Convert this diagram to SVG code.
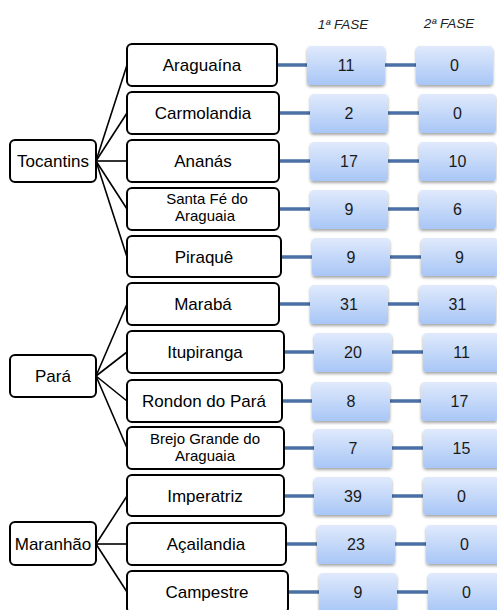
<svg xmlns="http://www.w3.org/2000/svg" width="497" height="610" viewBox="0 0 497 610">
<defs>
<linearGradient id="bg" x1="0" y1="0" x2="0" y2="1">
<stop offset="0" stop-color="#e0eafc"/>
<stop offset="1" stop-color="#a8c6f6"/>
</linearGradient>
<filter id="sh" x="-20%" y="-20%" width="140%" height="150%">
<feGaussianBlur in="SourceAlpha" stdDeviation="1.5"/>
<feOffset dx="0" dy="2" result="b"/>
<feComponentTransfer><feFuncA type="linear" slope="0.35"/></feComponentTransfer>
<feMerge><feMergeNode/><feMergeNode in="SourceGraphic"/></feMerge>
</filter>
</defs>
<style>
text{font-family:"Liberation Sans",Arial,sans-serif;fill:#000;text-anchor:middle}
.box rect{fill:#fff;stroke:#000;stroke-width:2}
.lbl{font-size:17px}
.two{font-size:15px}
.num rect{fill:url(#bg);filter:url(#sh)}
.num text{font-size:16px;fill:#1a1a1a}
.hdr{font-size:13.5px;font-style:italic;fill:#222}
.tree line{stroke:#000;stroke-width:1.6}
.link line{stroke:#4a70a5;stroke-width:3.5}
</style>
<rect width="497" height="610" fill="#fff"/>
<text class="hdr" x="343" y="28.5">1ª FASE</text>
<text class="hdr" x="449" y="27.5">2ª FASE</text>
<g id="connectors">
<g class="tree">
<line x1="96" y1="161" x2="127" y2="65"/>
<line x1="96" y1="161" x2="127" y2="113"/>
<line x1="96" y1="161" x2="127" y2="161"/>
<line x1="96" y1="161" x2="127" y2="209"/>
<line x1="96" y1="161" x2="127" y2="257"/>
<line x1="96" y1="376" x2="127" y2="304"/>
<line x1="96" y1="376" x2="127" y2="352"/>
<line x1="96" y1="376" x2="127" y2="401"/>
<line x1="96" y1="376" x2="127" y2="448"/>
<line x1="96" y1="544" x2="127" y2="496"/>
<line x1="96" y1="544" x2="127" y2="544"/>
<line x1="96" y1="544" x2="127" y2="592"/>
</g>
<g class="link">
<line x1="277" y1="65" x2="307" y2="65"/><line x1="385" y1="65" x2="416" y2="65"/>
<line x1="279" y1="113" x2="310" y2="113"/><line x1="388" y1="113" x2="419" y2="113"/>
<line x1="279" y1="161" x2="310" y2="161"/><line x1="388" y1="161" x2="419" y2="161"/>
<line x1="279" y1="209" x2="310" y2="209"/><line x1="388" y1="209" x2="419" y2="209"/>
<line x1="281" y1="257" x2="312" y2="257"/><line x1="390" y1="257" x2="421" y2="257"/>
<line x1="279" y1="304" x2="310" y2="304"/><line x1="388" y1="304" x2="419" y2="304"/>
<line x1="284" y1="352" x2="314" y2="352"/><line x1="392" y1="352" x2="423" y2="352"/>
<line x1="282" y1="401" x2="312" y2="401"/><line x1="390" y1="401" x2="421" y2="401"/>
<line x1="284" y1="448" x2="314" y2="448"/><line x1="392" y1="448" x2="423" y2="448"/>
<line x1="284" y1="496" x2="314" y2="496"/><line x1="392" y1="496" x2="423" y2="496"/>
<line x1="286" y1="544" x2="317" y2="544"/><line x1="395" y1="544" x2="426" y2="544"/>
<line x1="288" y1="592" x2="319" y2="592"/><line x1="397" y1="592" x2="428" y2="592"/>
</g>
</g>
<g id="tocantins" class="box"><rect x="10" y="140" width="86" height="42" rx="5"/><text class="lbl" x="53" y="167">Tocantins</text></g>
<g id="para" class="box"><rect x="10" y="355" width="86" height="42" rx="5"/><text class="lbl" x="53" y="382">Pará</text></g>
<g id="maranhao" class="box"><rect x="10" y="522" width="86" height="43" rx="5"/><text class="lbl" x="53" y="550">Maranhão</text></g>

<g id="araguaina" class="box"><rect x="127" y="44" width="150" height="42" rx="5"/><text class="lbl" x="202" y="71">Araguaína</text></g>
<g id="carmolandia" class="box"><rect x="127" y="92" width="152" height="42" rx="5"/><text class="lbl" x="203" y="119">Carmolandia</text></g>
<g id="ananas" class="box"><rect x="127" y="140" width="152" height="42" rx="5"/><text class="lbl" x="203" y="167">Ananás</text></g>
<g id="santafe" class="box"><rect x="127" y="188" width="152" height="42" rx="5"/><text class="two" x="207" y="204">Santa Fé do</text><text class="two" x="205" y="221">Araguaia</text></g>
<g id="piraque" class="box"><rect x="127" y="236" width="154" height="41" rx="5"/><text class="lbl" x="204" y="263">Piraquê</text></g>
<g id="maraba" class="box"><rect x="127" y="283" width="152" height="42" rx="5"/><text class="lbl" x="203" y="310">Marabá</text></g>
<g id="itupiranga" class="box"><rect x="127" y="331" width="157" height="42" rx="5"/><text class="lbl" x="205" y="358">Itupiranga</text></g>
<g id="rondon" class="box"><rect x="127" y="380" width="155" height="42" rx="5"/><text class="lbl" x="204" y="407">Rondon do Pará</text></g>
<g id="brejo" class="box"><rect x="127" y="427" width="157" height="42" rx="5"/><text class="two" x="205" y="443.5">Brejo Grande do</text><text class="two" x="205" y="460.5">Araguaia</text></g>
<g id="imperatriz" class="box"><rect x="127" y="475" width="157" height="41" rx="5"/><text class="lbl" x="205" y="502">Imperatriz</text></g>
<g id="acailandia" class="box"><rect x="127" y="523" width="159" height="42" rx="5"/><text class="lbl" x="206" y="550">Açailandia</text></g>
<g id="campestre" class="box"><rect x="127" y="571" width="161" height="42" rx="5"/><text class="lbl" x="207" y="598">Campestre</text></g>

<g id="f1-araguaina" class="num"><rect x="307" y="46" width="78" height="39" rx="4"/><text x="346" y="71">11</text></g>
<g id="f2-araguaina" class="num"><rect x="416" y="46" width="77" height="39" rx="4"/><text x="454.5" y="71">0</text></g>
<g id="f1-carmolandia" class="num"><rect x="310" y="94" width="78" height="39" rx="4"/><text x="349" y="119">2</text></g>
<g id="f2-carmolandia" class="num"><rect x="419" y="94" width="77" height="39" rx="4"/><text x="457.5" y="119">0</text></g>
<g id="f1-ananas" class="num"><rect x="310" y="142" width="78" height="39" rx="4"/><text x="349" y="167">17</text></g>
<g id="f2-ananas" class="num"><rect x="419" y="142" width="77" height="39" rx="4"/><text x="457.5" y="167">10</text></g>
<g id="f1-santafe" class="num"><rect x="310" y="190" width="78" height="39" rx="4"/><text x="349" y="215">9</text></g>
<g id="f2-santafe" class="num"><rect x="419" y="190" width="77" height="39" rx="4"/><text x="457.5" y="215">6</text></g>
<g id="f1-piraque" class="num"><rect x="312" y="238" width="78" height="38" rx="4"/><text x="351" y="263">9</text></g>
<g id="f2-piraque" class="num"><rect x="421" y="238" width="77" height="38" rx="4"/><text x="459.5" y="263">9</text></g>
<g id="f1-maraba" class="num"><rect x="310" y="285" width="78" height="39" rx="4"/><text x="349" y="310">31</text></g>
<g id="f2-maraba" class="num"><rect x="419" y="285" width="77" height="39" rx="4"/><text x="457.5" y="310">31</text></g>
<g id="f1-itupiranga" class="num"><rect x="314" y="333" width="78" height="39" rx="4"/><text x="353" y="358">20</text></g>
<g id="f2-itupiranga" class="num"><rect x="423" y="333" width="77" height="39" rx="4"/><text x="461.5" y="358">11</text></g>
<g id="f1-rondon" class="num"><rect x="312" y="382" width="78" height="39" rx="4"/><text x="351" y="407">8</text></g>
<g id="f2-rondon" class="num"><rect x="421" y="382" width="77" height="39" rx="4"/><text x="459.5" y="407">17</text></g>
<g id="f1-brejo" class="num"><rect x="314" y="429" width="78" height="39" rx="4"/><text x="353" y="454">7</text></g>
<g id="f2-brejo" class="num"><rect x="423" y="429" width="77" height="39" rx="4"/><text x="461.5" y="454">15</text></g>
<g id="f1-imperatriz" class="num"><rect x="314" y="477" width="78" height="38" rx="4"/><text x="353" y="502">39</text></g>
<g id="f2-imperatriz" class="num"><rect x="423" y="477" width="77" height="38" rx="4"/><text x="461.5" y="502">0</text></g>
<g id="f1-acailandia" class="num"><rect x="317" y="525" width="78" height="39" rx="4"/><text x="356" y="550">23</text></g>
<g id="f2-acailandia" class="num"><rect x="426" y="525" width="77" height="39" rx="4"/><text x="464.5" y="550">0</text></g>
<g id="f1-campestre" class="num"><rect x="319" y="573" width="78" height="39" rx="4"/><text x="358" y="598">9</text></g>
<g id="f2-campestre" class="num"><rect x="428" y="573" width="77" height="39" rx="4"/><text x="466.5" y="598">0</text></g>
</svg>
